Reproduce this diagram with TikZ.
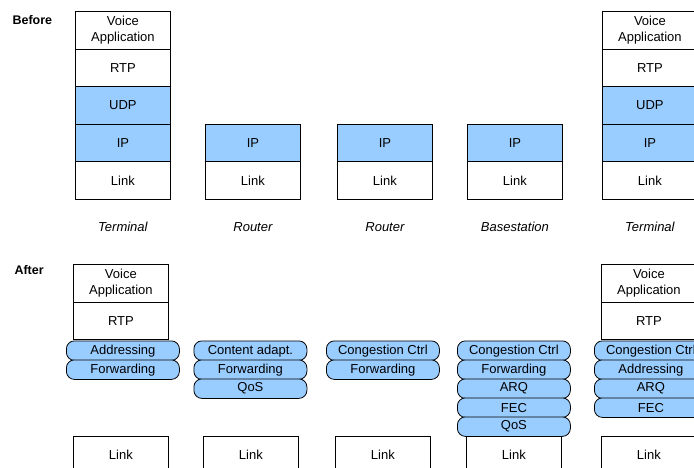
\documentclass[tikz,border=0pt]{standalone}
\usepackage{fontspec}
\setmainfont{Liberation Sans}
\usepackage{tikz}
\usetikzlibrary{positioning}
\definecolor{netblue}{RGB}{153,204,255}
\tikzset{
  layer/.style={draw, line width=0.8pt, anchor=north west, minimum width=95pt,
    minimum height=37.6pt, inner sep=0pt, align=center,
    font=\fontsize{13}{16}\selectfont},
  iplayer/.style={layer, fill=netblue},
  proto/.style={draw, line width=0.8pt, fill=netblue, rounded corners=8pt,
    anchor=north west, minimum width=113pt, minimum height=19.5pt, inner sep=0pt,
    font=\fontsize{13}{15}\selectfont},
  hostname/.style={font=\fontsize{13}{15}\selectfont\itshape},
  phase/.style={anchor=west, font=\fontsize{12.5}{15}\selectfont\bfseries}
}

\begin{document}
\begin{tikzpicture}[x=1pt,y=-1pt]
\useasboundingbox (0,0) rectangle (694,468);
\clip (0,0) rectangle (694,468);
% before
\node[phase] (before) at (9,20) {Before};
\foreach \n/\x in {a/75,e/602} {
   \node[layer] (voice\n) at (\x,11) {Voice\\Application};
   \node[layer] (rtp\n) at (\x,48.6) {RTP};
   \node[iplayer] (udp\n) at (\x,86.2) {UDP};
}
\foreach \n/\x in {a/75,b/205,c/337,d/467,e/602} {
   \node[iplayer] (ip\n) at (\x,123.8) {IP};
   \node[layer] (link\n) at (\x,161.4) {Link};
}
\foreach \n/\t in {a/Terminal,b/Router,c/Router,d/Basestation,e/Terminal}
   \node[hostname, below=19pt of link\n] (host\n) {\t};
% after
\node[phase] (after) at (11,270) {After};
\foreach \n/\x in {a/73,e/601} {
   \node[layer] (avoice\n) at (\x,264) {Voice\\Application};
   \node[layer] (artp\n) at (\x,301.6) {RTP};
}
\foreach \n/\x/\list in {a/66/{Addressing,Forwarding},
      b/193.5/{Content adapt.,Forwarding,QoS},
      c/326/{Congestion Ctrl,Forwarding},
      d/457/{Congestion Ctrl,Forwarding,ARQ,FEC,QoS},
      e/594/{Congestion Ctrl,Addressing,ARQ,FEC}}
   \foreach \t [count=\i] in \list
      \node[proto] (proto\n\i) at (\x,{321.5+19*\i}) {\t};
\foreach \n/\x in {a/73,b/203,c/335,d/466,e/601}
   \node[layer] (alink\n) at (\x,435.5) {Link};
\end{tikzpicture}
\end{document}
